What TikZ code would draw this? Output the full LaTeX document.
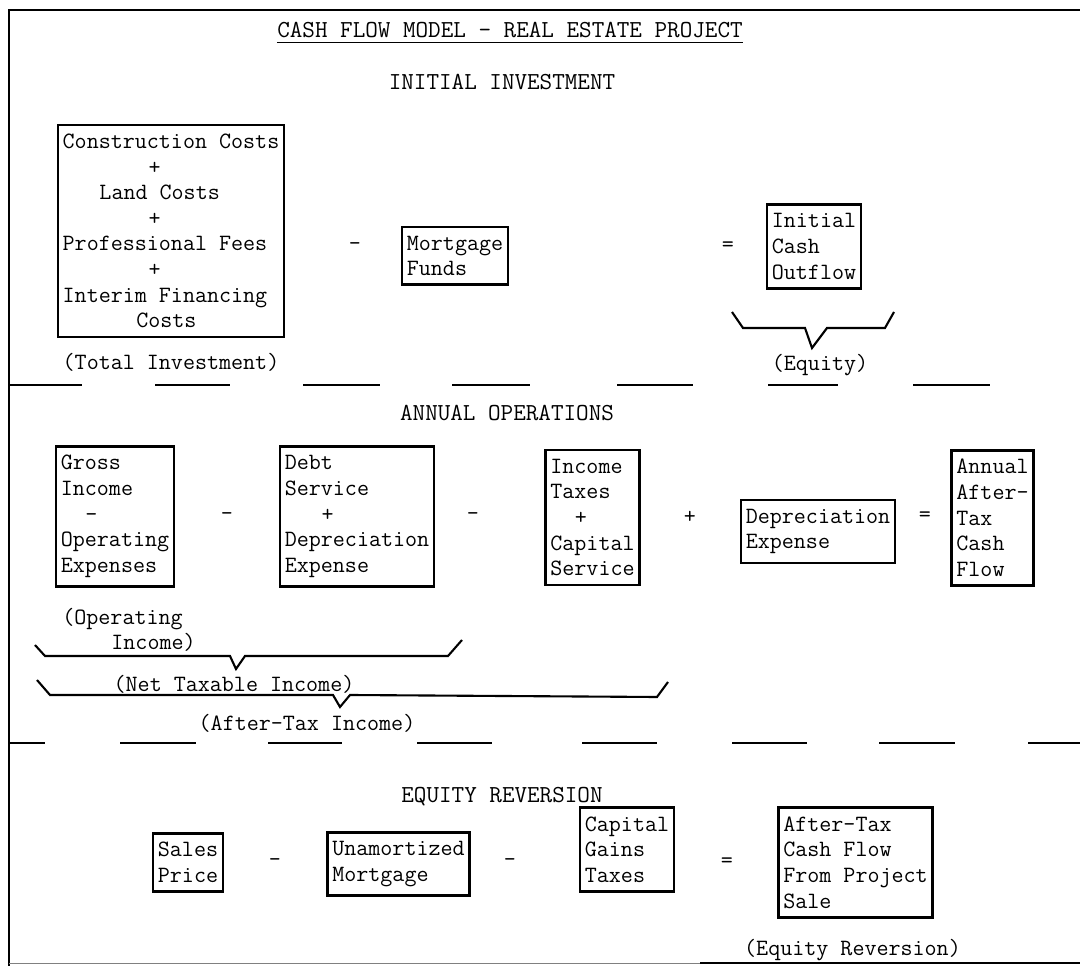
\documentclass[tikz,border=0pt]{standalone}
\usepackage{fontspec}
\usepackage{tikz}

\tikzset{
  txt/.style={font=\ttfamily\fontsize{13.3}{14.6}\selectfont, inner sep=0pt},
  head/.style={font=\ttfamily\fontsize{13.9}{14.6}\selectfont, inner sep=0pt},
  cbox/.style={txt, draw, line width=1.5pt, align=left, inner xsep=2.7pt, inner ysep=5pt},
  sepline/.style={line width=1.5pt},
  brace/.style={line width=1.2pt}
}

\begin{document}
\begin{tikzpicture}[x=0.02cm, y=-0.02cm]
    \useasboundingbox (0,0) rectangle (1080,966);

    % Frame
    \draw[line width=1.2pt] (1080,10) -- (9,10) -- (9,966);
    \draw[gray, thin] (9,963) -- (700,963);
    \draw[semithick] (700,963) -- (1080,963);

    % Title
    \node[head] (title) at (510,30) {CASH FLOW MODEL - REAL ESTATE PROJECT};
    \draw[semithick] ([yshift=-3pt]title.base west) -- ([yshift=-3pt]title.base east);

    % Initial investment
    \node[head] (invhead) at (502,82) {INITIAL INVESTMENT};
    \node[cbox] (total) at (171,231) {Construction Costs\\\hspace*{3.675em}+\\\hspace*{1.575em}Land Costs\\\hspace*{3.675em}+\\Professional Fees\\\hspace*{3.675em}+\\Interim Financing\\\hspace*{3.15em}Costs};
    \node[txt] (minus1) at (355,247) {-};
    \node[cbox] (mortgage) at (455,256) {Mortgage\\Funds};
    \node[txt] (equals1) at (728,247) {=};
    \node[cbox] (outflow) at (814,246.5) {Initial\\Cash\\Outflow};

    \node[txt] (totlabel) at (171,362) {(Total Investment)};
    \draw[brace] (732,312) -- (743,328) -- (805,328) -- (812,348) -- (827,328) -- (885,328) -- (894,312);
    \node[txt] (eqlabel) at (820,365) {(Equity)};

    % Separator
    \foreach \a/\b in {9/82,155/230,303/380,452/530,617/693,768/838,913/990}
        \draw[sepline] (\a,385) -- (\b,385);

    % Annual operations
    \node[head] (opshead) at (507,413) {ANNUAL OPERATIONS};
    \node[cbox] (gross) at (115,516.5) {Gross\\Income\\\hspace*{1.05em}-\\Operating\\Expenses};
    \node[txt] (minus2) at (227,517) {-};
    \node[cbox] (debt) at (357,516.5) {Debt\\Service\\\hspace*{1.575em}+\\Depreciation\\Expense};
    \node[txt] (minus3) at (473,517) {-};
    \node[cbox] (taxes) at (592.5,517.5) {Income\\Taxes\\\hspace*{1.05em}+\\Capital\\Service};
    \node[txt] (plus1) at (690,517) {+};
    \node[cbox] (deprec) at (818,531.5) {Depreciation\\Expense};
    \node[txt] (equals2) at (925,517) {=};
    \node[cbox] (annual) at (992.5,518) {Annual\\After-\\Tax\\Cash\\Flow};

    \node[txt, align=left, anchor=west] (oplabel) at (62,630) {(Operating\\\hspace*{2.1em}Income)};
    \draw[brace] (35,645) -- (45,656) -- (230,656) -- (236,669) -- (245,656) -- (448,656) -- (462,640);
    \node[txt] (ntilabel) at (234,684) {(Net Taxable Income)};
    \draw[brace] (37,680) -- (50,695) -- (333,695) -- (340,707) -- (350,695) -- (657,697) -- (668,682);
    \node[txt] (atilabel) at (307,723) {(After-Tax Income)};

    % Separator
    \foreach \a/\b in {9/45,120/196,268/342,417/492,582/657,732/807,879/955,1028/1080}
        \draw[sepline] (\a,743) -- (\b,743);

    % Equity reversion
    \node[head] (revhead) at (502,797) {EQUITY REVERSION};
    \node[cbox] (sales) at (188,862.5) {Sales\\Price};
    \node[txt] (minus4) at (275,863) {-};
    \node[cbox] (unamort) at (398.5,864) {Unamortized\\Mortgage};
    \node[txt] (minus5) at (510,863) {-};
    \node[cbox] (gains) at (627,849.5) {Capital\\Gains\\Taxes};
    \node[txt] (equals3) at (727,863) {=};
    \node[cbox] (saleflow) at (855.5,862.5) {After-Tax\\Cash Flow\\From Project\\Sale};
    \node[txt] (revlabel) at (852.5,950) {(Equity Reversion)};
\end{tikzpicture}
\end{document}
